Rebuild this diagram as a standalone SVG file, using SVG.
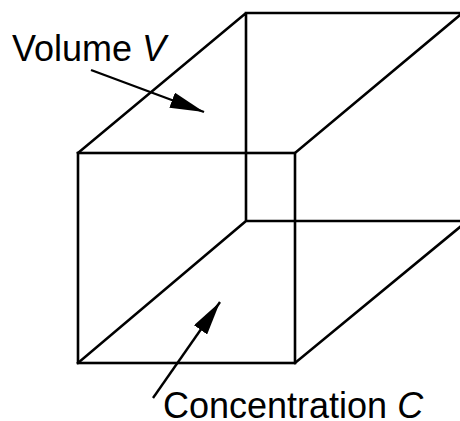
<svg xmlns="http://www.w3.org/2000/svg" width="460" height="421" viewBox="0 0 460 421">
<style>
.e{stroke:#000;stroke-width:2.6;fill:none;stroke-linecap:square}
.a{stroke:#000;stroke-width:2.4;fill:none}
.t{font-family:"Liberation Sans",Arial,sans-serif;font-size:36px;fill:#000}
</style>
<defs>
<marker id="ah" markerUnits="userSpaceOnUse" viewBox="0 0 34 16" refX="34" refY="8" markerWidth="34" markerHeight="16" orient="auto">
<path d="M0,0 L34,8 L0,16 Z" fill="#000"/>
</marker>
</defs>
<g id="box">
<rect class="e" x="78" y="153" width="217" height="210"/>
<path class="e" d="M78,153 L246,13 L460,13 M246,13 L246,221 L460,221 M78,363 L246,221 M295,153 L460,15 M295,363 L460,227"/>
</g>
<g id="connectors">
<line class="a" x1="91" y1="70" x2="204" y2="112" marker-end="url(#ah)"/>
<line class="a" x1="153" y1="398" x2="220" y2="302" marker-end="url(#ah)"/>
</g>
<g id="label-volume"><text class="t" x="12" y="61">Volume <tspan font-style="italic">V</tspan></text></g>
<g id="label-concentration"><text class="t" x="163" y="418">Concentration <tspan font-style="italic">C</tspan></text></g>
</svg>
